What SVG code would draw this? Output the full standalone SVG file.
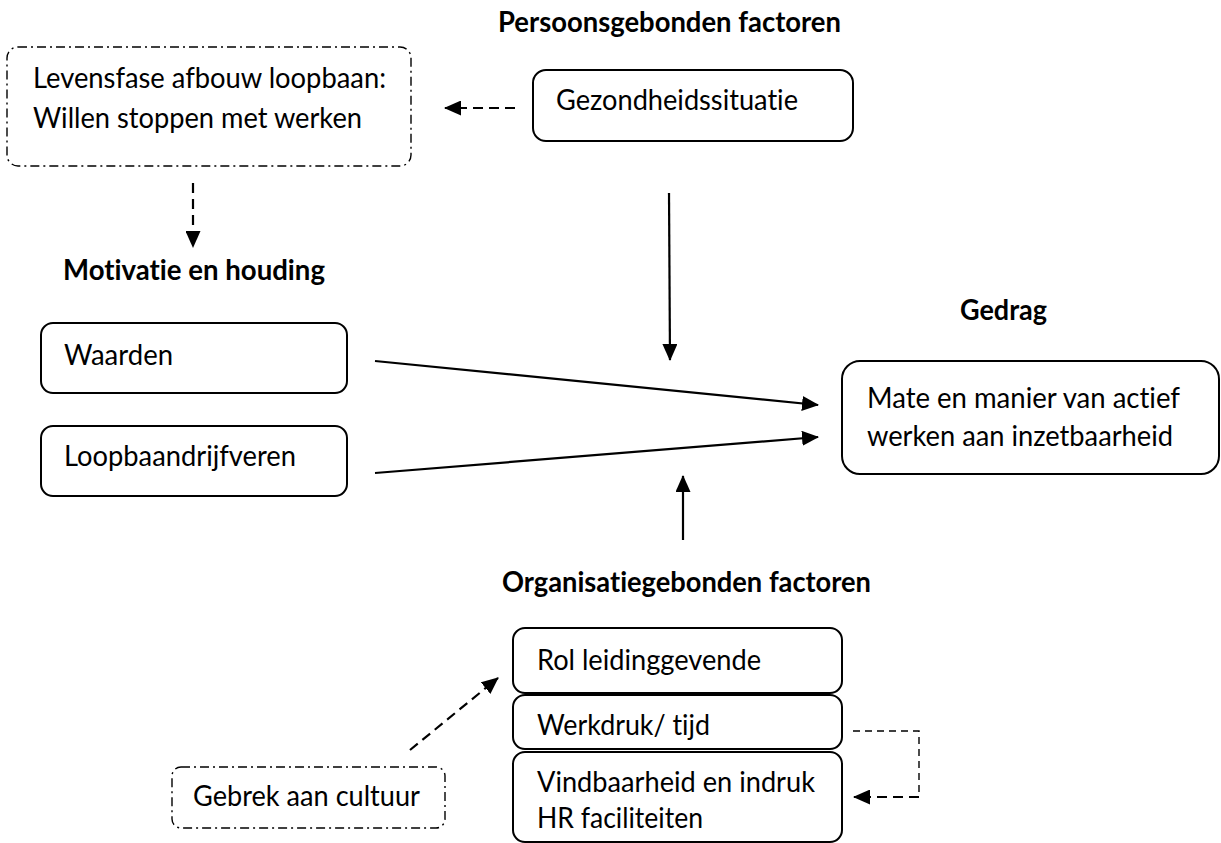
<svg xmlns="http://www.w3.org/2000/svg" width="1221" height="843" viewBox="0 0 1221 843">
  <style>
    .t { font-family: Lato, "Open Sans", "Liberation Sans", sans-serif; font-size: 28px; fill: #000; font-variant-ligatures: none; font-feature-settings: "liga" 0, "clig" 0; }
    .b { font-weight: bold; }
    .box { fill: #fff; stroke: #000; stroke-width: 2; }
    .dd { fill: #fff; stroke: #000; stroke-width: 1.4; stroke-dasharray: 9 4 2 4; }
    .solid { fill: none; stroke: #000; stroke-width: 2.2; }
    .dash { fill: none; stroke: #000; stroke-width: 2.2; stroke-dasharray: 10 6; }
    .dashthin { fill: none; stroke: #000; stroke-width: 1.4; stroke-dasharray: 7 5; }
  </style>
  <defs>
    <marker id="ah" markerUnits="userSpaceOnUse" markerWidth="17" markerHeight="15" refX="16" refY="7.5" orient="auto">
      <path d="M0,0 L17,7.5 L0,15 z" fill="#000"/>
    </marker>
  </defs>
  <rect width="1221" height="843" fill="#fff"/>

  <!-- headings -->
  <text class="t b" x="498" y="32" textLength="343" lengthAdjust="spacingAndGlyphs">Persoonsgebonden factoren</text>
  <text class="t b" x="63" y="280" textLength="262" lengthAdjust="spacingAndGlyphs">Motivatie en houding</text>
  <text class="t b" x="960" y="320" textLength="87" lengthAdjust="spacingAndGlyphs">Gedrag</text>
  <text class="t b" x="502" y="592" textLength="369" lengthAdjust="spacingAndGlyphs">Organisatiegebonden factoren</text>

  <g id="levensfase">
    <rect class="dd" x="7" y="47" width="404" height="119" rx="11"/>
    <text class="t" x="33" y="88" textLength="353" lengthAdjust="spacingAndGlyphs">Levensfase afbouw loopbaan:</text>
    <text class="t" x="33" y="128" textLength="329" lengthAdjust="spacingAndGlyphs">Willen stoppen met werken</text>
  </g>

  <g id="gezondheid">
    <rect class="box" x="533" y="70" width="320" height="71" rx="13"/>
    <text class="t" x="556" y="110" textLength="242" lengthAdjust="spacingAndGlyphs">Gezondheidssituatie</text>
  </g>

  <g id="waarden">
    <rect class="box" x="41" y="323" width="306" height="70" rx="12"/>
    <text class="t" x="64" y="365" textLength="109" lengthAdjust="spacingAndGlyphs">Waarden</text>
  </g>

  <g id="loopbaandrijfveren">
    <rect class="box" x="41" y="426" width="306" height="70" rx="12"/>
    <text class="t" x="64" y="466" textLength="232" lengthAdjust="spacingAndGlyphs">Loopbaandrijfveren</text>
  </g>

  <g id="gedrag">
    <rect class="box" x="842" y="361" width="377" height="113" rx="18"/>
    <text class="t" x="867" y="408" textLength="313" lengthAdjust="spacingAndGlyphs">Mate en manier van actief</text>
    <text class="t" x="867" y="446" textLength="306" lengthAdjust="spacingAndGlyphs">werken aan inzetbaarheid</text>
  </g>

  <g id="rol">
    <rect class="box" x="513" y="628" width="329" height="65" rx="12"/>
    <text class="t" x="537" y="670" textLength="224" lengthAdjust="spacingAndGlyphs">Rol leidinggevende</text>
  </g>

  <g id="werkdruk">
    <rect class="box" x="513" y="695" width="329" height="54" rx="12"/>
    <text class="t" x="537" y="735" textLength="173" lengthAdjust="spacingAndGlyphs">Werkdruk/ tijd</text>
  </g>

  <g id="vindbaarheid">
    <rect class="box" x="513" y="752" width="329" height="90" rx="12"/>
    <text class="t" x="537" y="792" textLength="278" lengthAdjust="spacingAndGlyphs">Vindbaarheid en indruk</text>
    <text class="t" x="537" y="828" textLength="166" lengthAdjust="spacingAndGlyphs">HR faciliteiten</text>
  </g>

  <g id="cultuur">
    <rect class="dd" x="172" y="767" width="273" height="61" rx="9"/>
    <text class="t" x="193" y="806" textLength="227" lengthAdjust="spacingAndGlyphs">Gebrek aan cultuur</text>
  </g>

  <g id="connectors">
    <line class="dash" x1="515" y1="108" x2="445" y2="108" marker-end="url(#ah)"/>
    <line class="dash" x1="193" y1="183" x2="193" y2="247" marker-end="url(#ah)"/>
    <line class="solid" x1="669" y1="193" x2="670" y2="360" marker-end="url(#ah)"/>
    <line class="solid" x1="375" y1="361" x2="818" y2="405" marker-end="url(#ah)"/>
    <line class="solid" x1="375" y1="473" x2="818" y2="437" marker-end="url(#ah)"/>
    <line class="solid" x1="683" y1="540" x2="683" y2="476" marker-end="url(#ah)"/>
    <line class="dash" x1="410" y1="750" x2="498" y2="678" marker-end="url(#ah)"/>
    <path class="dashthin" d="M853,731 H919 V797"/>
    <line class="dash" x1="919" y1="797" x2="854" y2="797" marker-end="url(#ah)"/>
  </g>
</svg>
